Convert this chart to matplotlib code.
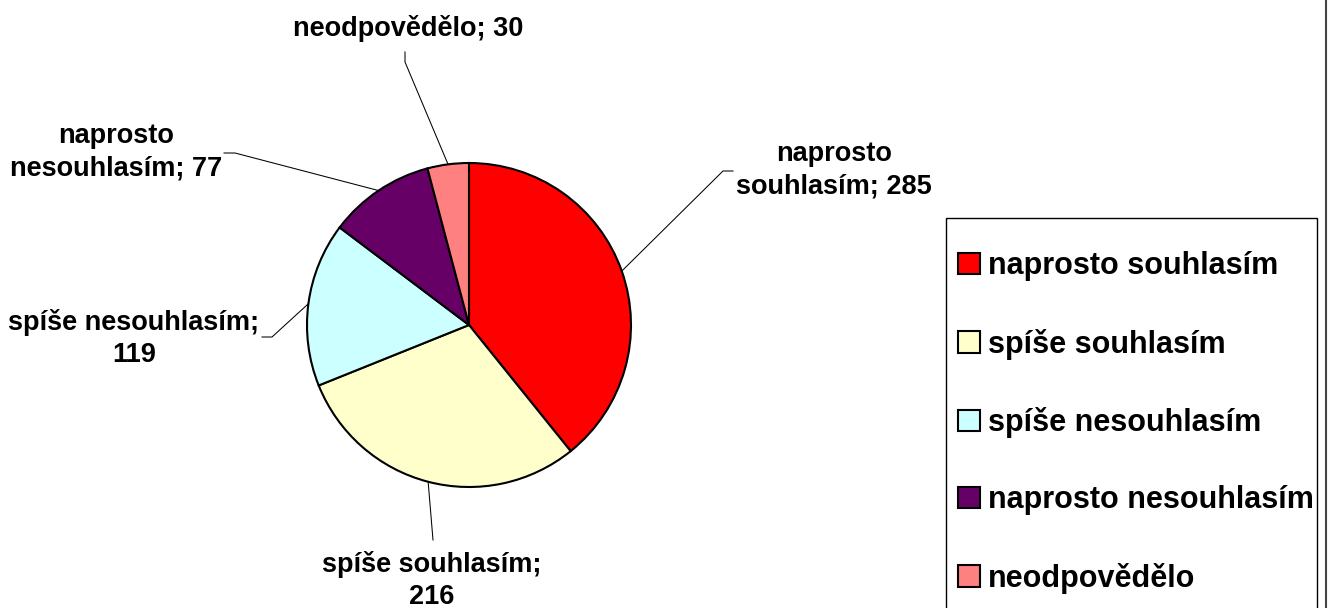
import matplotlib
matplotlib.use("Agg")
import matplotlib.pyplot as plt
from matplotlib.lines import Line2D
from matplotlib.patches import Rectangle
import numpy as np

categories = ["naprosto souhlasím", "spíše souhlasím", "spíše nesouhlasím",
              "naprosto nesouhlasím", "neodpovědělo"]
values = [285, 216, 119, 77, 30]
label_texts = ["naprosto\nsouhlasím; 285", "spíše souhlasím;\n216",
               "spíše nesouhlasím;\n119", "naprosto\nnesouhlasím; 77",
               "neodpovědělo; 30"]
colors = ["#FF0000", "#FFFFCC", "#CCFFFF", "#660066", "#FF8080"]

W, H = 1332, 608


def px(x, y):
    # pixel coords (top-left origin) -> data coords
    return x, H - y


# label layout: text centre, leader elbow, leader end (pixels)
label_pos = [(834, 170), (432, 580), (134, 338), (116, 152), (408, 28)]
leader_mid = [(723, 171), (433, 540), (272, 337), (235, 153), (405, 62)]
leader_end = [(733, 171), (433, 540), (262, 337), (224, 153), (405, 52)]

fig = plt.figure(figsize=(W / 100, H / 100), dpi=100)
ax = fig.add_axes([0, 0, 1, 1])

cx, cy = px(469, 325)
r = 162
wedges, _ = ax.pie(values, colors=colors, startangle=90, counterclock=False,
                   center=(cx, cy), radius=r, frame=True,
                   wedgeprops=dict(edgecolor="black", linewidth=1.5))
ax.set_xlim(0, W)
ax.set_ylim(0, H)
ax.set_aspect("auto")
ax.axis("off")

font = dict(family="Liberation Sans", weight="bold")

for w, txt, lp, lm, le in zip(wedges, label_texts, label_pos, leader_mid, leader_end):
    th = np.deg2rad((w.theta1 + w.theta2) / 2)
    ex, ey = cx + r * np.cos(th), cy + r * np.sin(th)
    mx, my = px(*lm)
    nx, ny = px(*le)
    ax.plot([ex, mx, nx], [ey, my, ny], color="black", lw=0.75, zorder=0)
    tx, ty = px(*lp)
    ax.text(tx, ty, txt, ha="center", va="center", fontsize=19.5,
            linespacing=1.3, **font)

# legend box (runs off the bottom edge like the original)
fig.add_artist(Rectangle((946 / W, -0.05), (1317 - 946) / W, 0.05 + 1 - 218 / H,
                         transform=fig.transFigure, facecolor="white",
                         edgecolor="black", lw=1))
fig.legend(wedges, categories, loc="upper left",
           bbox_to_anchor=(946 / W, 1 - 239 / H), frameon=False,
           prop=dict(family="Liberation Sans", weight="bold", size=22),
           handlelength=0.7, handleheight=0.7, handletextpad=0.28,
           labelspacing=1.55, borderpad=0.4, borderaxespad=0)

fig.add_artist(Line2D([1326 / W, 1326 / W], [0, 1], color="#444444", lw=1.5,
                      transform=fig.transFigure))

fig.savefig("out.png", dpi=100)
